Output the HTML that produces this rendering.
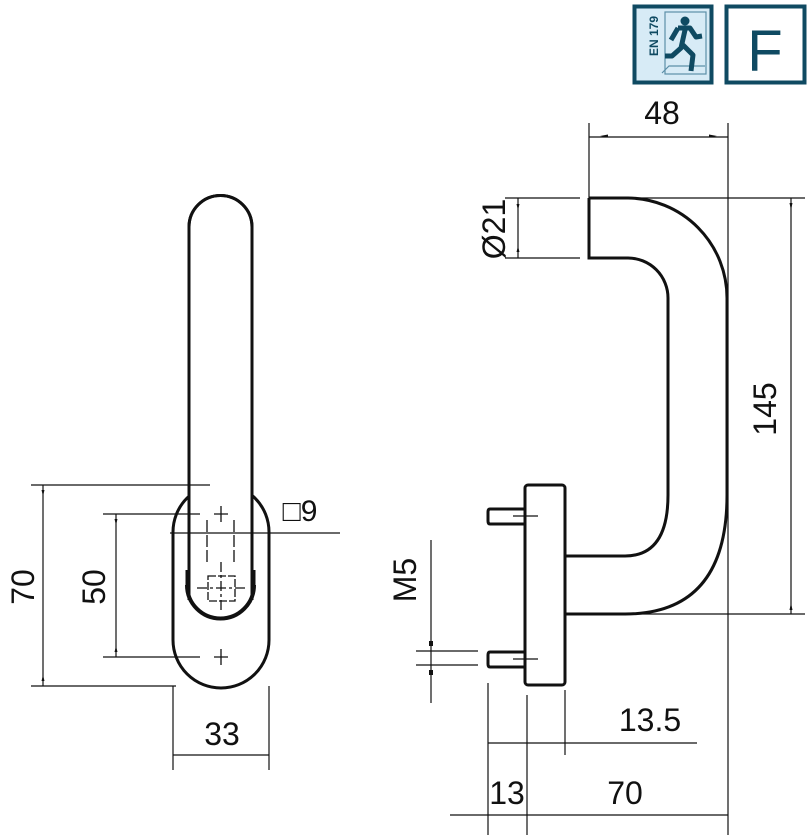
<!DOCTYPE html>
<html><head><meta charset="utf-8"><style>
html,body{margin:0;padding:0;background:#fff;}
svg{display:block}
text{font-family:"Liberation Sans",sans-serif;fill:#111}
</style></head><body>
<svg width="810" height="835" viewBox="0 0 810 835" xmlns="http://www.w3.org/2000/svg">
<!-- icons -->
<rect x="634.5" y="6.5" width="77" height="76" fill="#d7ebf6" stroke="#0f4a62" stroke-width="4"/>
<rect x="665" y="12" width="41" height="62" fill="none" stroke="#5c8fa8" stroke-width="1.2"/>
<path d="M662 73 L669 66 L705 66" fill="none" stroke="#5c8fa8" stroke-width="1.2"/>
<text x="658" y="56" font-size="12" font-weight="bold" transform="rotate(-90 658 56)" style="fill:#0f4a62">EN 179</text>
<circle cx="685" cy="21" r="4.5" fill="#0f4a62"/>
<path d="M678 28 L690 28 L696 37 L702 36 M678 28 L671 40 M685 30 L681 48 L672 56 L665 56 M683 45 L693 55 L691 71" fill="none" stroke="#0f4a62" stroke-width="5" stroke-linejoin="round"/>
<rect x="726.5" y="6.5" width="78" height="76" fill="#fff" stroke="#0f4a62" stroke-width="4"/>
<text x="765" y="71" font-size="58" text-anchor="middle" style="fill:#0f4a62">F</text>

<g fill="none" stroke="#111">
<!-- front view -->
<path d="M173 532 A48 48 0 0 1 269 532 L269 640 A48 48 0 0 1 173 640 Z" stroke-width="3" fill="#fff"/>
<path d="M189 600 L189 227 A31.5 31.5 0 0 1 252 227 L252 600" stroke-width="3" fill="#fff"/>
<path d="M189 600 L189 227 A31.5 31.5 0 0 1 252 227 L252 585" stroke-width="3"/>
<path d="M187 585 A33.5 33.5 0 0 0 254 585" stroke-width="4"/>
<path d="M187 585 L187 570 M254 585 L254 570" stroke-width="3"/>
<g stroke-width="1.3">
<path d="M214 514 H228 M221 506 V522"/>
<path d="M214 657 H228 M221 649 V665"/>
<path d="M207 520 V563 M234 520 V563" stroke-dasharray="12 3"/>
<rect x="208" y="576" width="27" height="25" stroke-dasharray="8 2"/>
<path d="M197 588 H246 M221 562 V612" stroke-dasharray="10 3 3 3"/>
</g>
<g stroke-width="1.2">
<path d="M31 485 H210 M31 686 H176 M103 514 H200 M103 657 H200"/>
<path d="M43 485 V686 M116 514 V657"/>
<path d="M170 533 H340"/>
<path d="M173 686 V770 M269 686 V770 M173 755 H269"/>
</g>
<!-- side view -->
<path d="M589 198 L628 198 A100 100 0 0 1 727 298 L727 495 Q727 614 625 614 L565 614" stroke-width="3"/>
<path d="M589 198 L589 258 L628 258 A40 40 0 0 1 668 298 L668 495 Q668 556 625 556 L565 556" stroke-width="3"/>
<rect x="525" y="485" width="40" height="200" rx="3" stroke-width="3" fill="#fff"/>
<path d="M525 509 H490 Q488 509 488 512 V521 Q488 524 490 524 H525" stroke-width="3"/>
<path d="M525 652 H490 Q488 652 488 655 V664 Q488 667 490 667 H525" stroke-width="3"/>
<path d="M513 516 H538 M513 659 H538" stroke-width="1.2"/>
<g stroke-width="1.2">
<path d="M589 123 V198 M728 123 V835 M589 137 H728"/>
<path d="M589 198 H805 M565 614 H805 M791 198 V614"/>
<path d="M505 198 H580 M505 258 H580 M518 198 V258"/>
<path d="M431 540 V703 M416 651 H478 M416 665 H478"/>
<path d="M488 683 V835 M527 695 V835 M565 690 V755 M488 743 H697"/>
<path d="M450 815 H728"/>
</g>
</g>
<g fill="#111">
<path d="M600 136 l8 -1.5 v3 z M717 136 l-8 -1.5 v3 z"/>
<path d="M791 210 l-1.5 -7 h3 z M791 603 l-1.5 7 h3 z"/>
<path d="M518 210 l-1.5 -6 h3 z M518 246 l-1.5 6 h3 z"/>
<path d="M43 496 l-1.5 -6 h3 z M43 675 l-1.5 6 h3 z M116 525 l-1.5 -6 h3 z M116 646 l-1.5 6 h3 z"/>
<rect x="429" y="641" width="4" height="5"/><rect x="429" y="670" width="4" height="5"/>
</g>
<g font-size="32">
<text x="662" y="124" text-anchor="middle">48</text>
<text x="300" y="521" text-anchor="middle" font-size="30">□9</text>
<text x="222" y="745" text-anchor="middle">33</text>
<text x="650" y="731" text-anchor="middle">13.5</text>
<text x="507" y="804" text-anchor="middle">13</text>
<text x="625" y="804" text-anchor="middle">70</text>
<text transform="translate(34 587) rotate(-90)" text-anchor="middle">70</text>
<text transform="translate(105 587) rotate(-90)" text-anchor="middle">50</text>
<text transform="translate(776 409) rotate(-90)" text-anchor="middle">145</text>
<text transform="translate(505 229) rotate(-90)" text-anchor="middle">Ø21</text>
<text transform="translate(416 580) rotate(-90)" text-anchor="middle">M5</text>
</g>
</svg>
</body></html>
